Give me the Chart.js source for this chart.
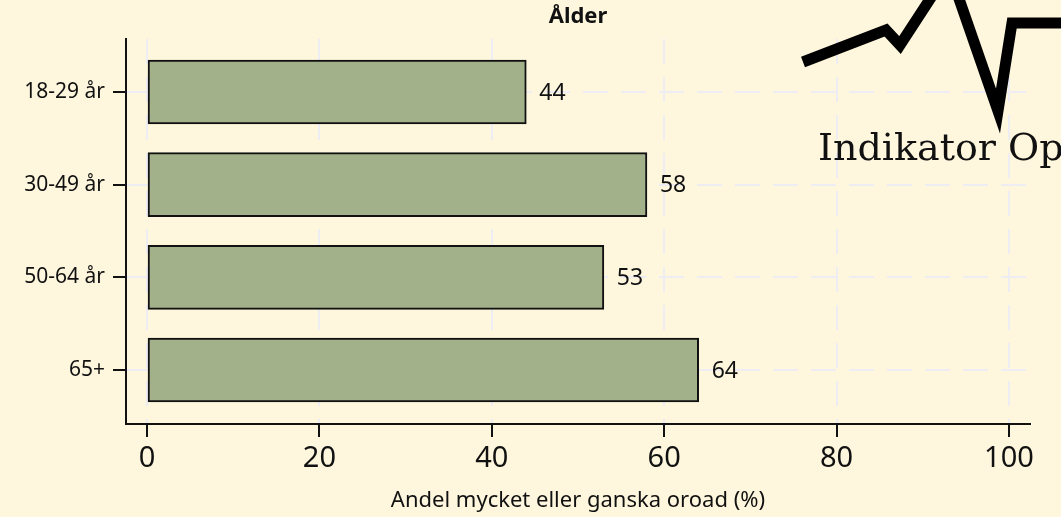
<!DOCTYPE html>
<html>
<head>
<meta charset="utf-8">
<script src="https://cdn.jsdelivr.net/npm/chart.js@4"></script>
<style>
  html, body { margin: 0; padding: 0; background: #FEF7DD; }
  #wrap { width: 1061px; height: 517px; }
</style>
</head>
<body>
<div id="wrap"><canvas id="c" width="1061" height="517"></canvas></div>
<script>
const categories = ["18-29 år", "30-49 år", "50-64 år", "65+"];
const values = [44, 58, 53, 64];
const xTicks = [0, 20, 40, 60, 80, 100];
const titleText = "Ålder";
const xTitle = "Andel mycket eller ganska oroad (%)";
const logoText = "Indikator Opinion";

const points = values.map((v, i) => ({ x: v, y: i }));

const bgPlugin = {
  id: 'bg',
  beforeDraw(chart) {
    const ctx = chart.ctx;
    ctx.save();
    ctx.fillStyle = '#FEF7DD';
    ctx.fillRect(0, 0, chart.width, chart.height);
    ctx.restore();
  }
};

const labelPlugin = {
  id: 'barLabels',
  afterDatasetsDraw(chart) {
    const ctx = chart.ctx;
    const meta = chart.getDatasetMeta(0);
    ctx.save();
    ctx.font = '23px "Noto Sans"';
    ctx.fillStyle = '#111';
    ctx.textBaseline = 'middle';
    ctx.textAlign = 'left';
    meta.data.forEach((bar, i) => {
      ctx.fillText(String(values[i]), bar.x + 13, bar.y + 1);
    });
    ctx.restore();
  }
};

const logoPlugin = {
  id: 'logo',
  afterDraw(chart) {
    const ctx = chart.ctx;
    ctx.save();
    ctx.strokeStyle = '#000';
    ctx.lineWidth = 11;
    ctx.lineJoin = 'miter';
    ctx.beginPath();
    const pts = [[803, 62], [886, 30], [900, 45], [949, -30], [998, 111], [1012, 23], [1070, 23]];
    pts.forEach((p, i) => i ? ctx.lineTo(p[0], p[1]) : ctx.moveTo(p[0], p[1]));
    ctx.stroke();
    ctx.font = '38px "DejaVu Serif"';
    ctx.fillStyle = '#111';
    ctx.textBaseline = 'alphabetic';
    ctx.fillText(logoText, 818, 160);
    ctx.restore();
  }
};

const gridOpts = {
  color: '#EDEDF3',
  lineWidth: 2,
  offset: false,
  drawTicks: true,
  tickLength: 13,
  tickColor: '#111',
  tickWidth: 2,
  tickBorderDash: []
};

new Chart(document.getElementById('c'), {
  type: 'bar',
  data: {
    datasets: [{
      data: points,
      backgroundColor: '#A3B18A',
      borderColor: '#111',
      borderWidth: 2,
      borderSkipped: false,
      barThickness: 64
    }]
  },
  options: {
    indexAxis: 'y',
    responsive: false,
    animation: false,
    layout: { padding: { left: 0, right: 31, top: 0, bottom: 0 } },
    plugins: {
      legend: { display: false },
      tooltip: { enabled: false },
      title: {
        display: true,
        text: titleText,
        fullSize: false,
        color: '#111',
        font: { family: 'Noto Sans', size: 22, weight: 'bold', lineHeight: 1.2 },
        padding: { top: 4, bottom: 8.6 }
      }
    },
    scales: {
      x: {
        type: 'linear',
        min: -2.44,
        max: 102.44,
        offset: false,
        afterBuildTicks: s => { s.ticks = xTicks.map(v => ({ value: v })); },
        afterFit: s => { s.height = 93; },
        grid: gridOpts,
        border: { display: true, color: '#111', width: 2, dash: [25, 13] },
        ticks: {
          color: '#111',
          padding: 4,
          font: { family: 'Noto Sans', size: 29 },
          callback: v => String(v)
        },
        title: {
          display: true,
          text: xTitle,
          color: '#111',
          font: { family: 'Noto Sans', size: 22, lineHeight: 1.2 },
          padding: { top: 0, bottom: 3 }
        }
      },
      y: {
        type: 'linear',
        reverse: true,
        offset: false,
        min: -0.572,
        max: 3.583,
        afterBuildTicks: s => { s.ticks = categories.map((c, i) => ({ value: i })); },
        afterFit: s => { s.width = 126; },
        grid: gridOpts,
        border: { display: true, color: '#111', width: 2, dash: [25, 13] },
        ticks: {
          color: '#111',
          padding: 8,
          font: { family: 'Noto Sans', size: 21 },
          callback: v => categories[v] !== undefined ? categories[v] : ''
        }
      }
    }
  },
  plugins: [bgPlugin, labelPlugin, logoPlugin]
});
</script>
</body>
</html>
